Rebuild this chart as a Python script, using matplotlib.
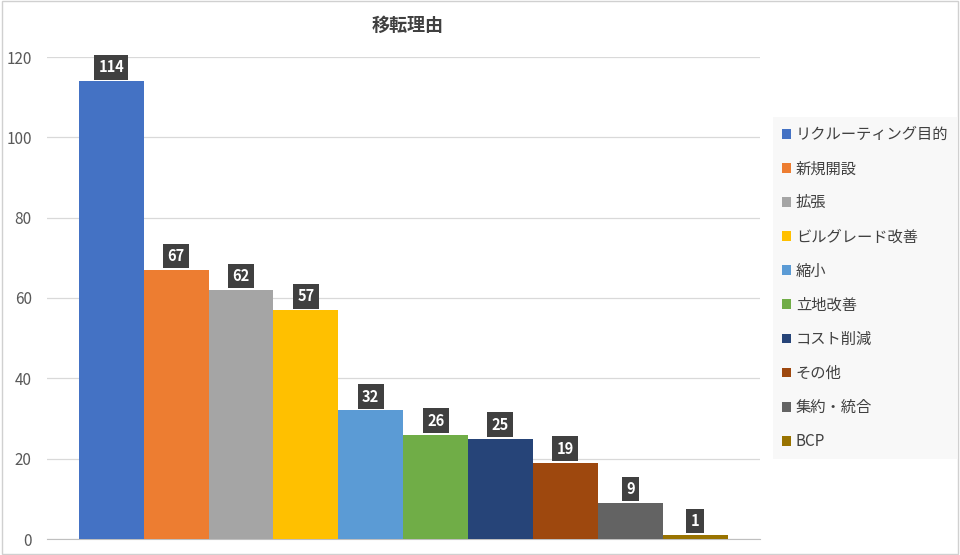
import matplotlib
matplotlib.use('Agg')
import matplotlib.pyplot as plt
from matplotlib.patches import Rectangle, Patch

plt.rcParams['font.family'] = ['Noto Sans CJK JP', 'DejaVu Sans']

# data
reasons = ['リクルーティング目的', '新規開設', '拡張', 'ビルグレード改善', '縮小',
           '立地改善', 'コスト削減', 'その他', '集約・統合', 'BCP']
counts = [114, 67, 62, 57, 32, 26, 25, 19, 9, 1]
colors = ['#4472C4', '#ED7D31', '#A5A5A5', '#FFC000', '#5B9BD5',
          '#70AD47', '#264478', '#9E480E', '#636363', '#997300']
y_ticks = [0, 20, 40, 60, 80, 100, 120]

fig = plt.figure(figsize=(9.6, 5.55), dpi=100)
ax = fig.add_axes([47 / 960, 16 / 555, 713 / 960, 482 / 555])

# outer border of the chart
fig.patches.append(Rectangle((0.002, 0.002), 0.996, 0.996, transform=fig.transFigure,
                             fill=False, edgecolor='#d0d0d0', linewidth=1.0))

for i, (name, val, col) in enumerate(zip(reasons, counts, colors)):
    ax.bar(i, val, width=1.0, color=col, label=name, zorder=3)
    ax.annotate(str(val), xy=(i, val), xytext=(0, 10), textcoords='offset points',
                ha='center', va='center', color='white', fontsize=10.5, fontweight='bold',
                bbox=dict(boxstyle='square,pad=0.3', facecolor='#404040', edgecolor='none'),
                zorder=5)

ax.set_xlim(-0.99, 10.0)
ax.set_ylim(0, 120)
ax.set_yticks(y_ticks)
ax.set_xticks([])
ax.tick_params(axis='y', length=0, labelsize=11, labelcolor='#595959', pad=11)
ax.grid(axis='y', color='#d9d9d9', linewidth=0.9, zorder=0)
for s in ['top', 'right', 'left']:
    ax.spines[s].set_visible(False)
ax.spines['bottom'].set_color('#bfbfbf')

fig.text(408 / 960, 1 - 25 / 555, '移転理由', ha='center', va='center',
         fontsize=13, fontweight='bold', color='#404040')

handles = [Patch(facecolor=c, edgecolor='none') for c in colors]
leg = fig.legend(handles, reasons, loc='upper left', bbox_to_anchor=(773 / 960, 1 - 117 / 555),
                 frameon=True, fontsize=11, handlelength=0.6, handleheight=0.6,
                 handletextpad=0.3, labelspacing=1.12, borderpad=0.6, borderaxespad=0)
leg.get_frame().set_facecolor('#f7f7f7')
leg.get_frame().set_edgecolor('none')
leg.get_frame().set_boxstyle('square', pad=0)
for t in leg.get_texts():
    t.set_color('#404040')

plt.savefig('out.png', dpi=100)
